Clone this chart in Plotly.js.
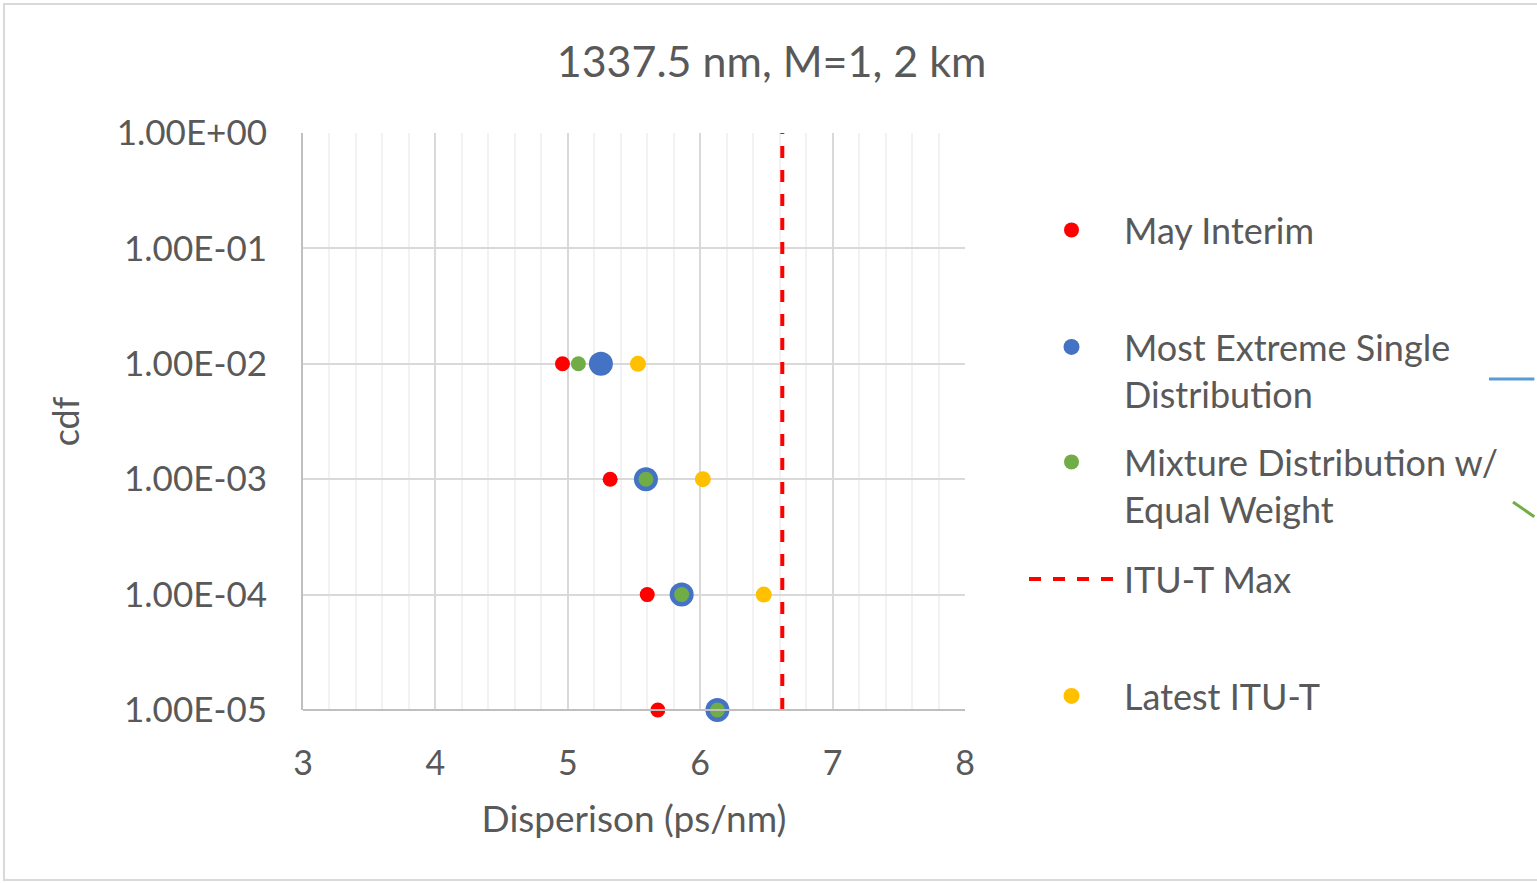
<!DOCTYPE html>
<html>
<head>
<meta charset="utf-8">
<script src="https://cdn.plot.ly/plotly-3.0.1.min.js"></script>
<style>html,body{margin:0;padding:0;background:#fff;}#chart{width:1537px;height:883px;}</style>
</head>
<body>
<div id="chart"></div>
<script>
// ---- data ----
const cdfLevels = [1e-2, 1e-3, 1e-4, 1e-5];
const mayInterim = [4.96, 5.32, 5.60, 5.68];
const mostExtreme = [5.25, 5.59, 5.86, 6.13];
const mixtureEqual = [5.08, 5.59, 5.86, 6.13];
const latestItuCdf = [1e-2, 1e-3, 1e-4];
const latestItu = [5.53, 6.02, 6.48];
const ituMaxX = [6.62, 6.62];
const ituMaxY = [1e-5, 1];
const yTickVals = [1, 1e-1, 1e-2, 1e-3, 1e-4, 1e-5];
const yTickText = ['1.00E+00', '1.00E-01', '1.00E-02', '1.00E-03', '1.00E-04', '1.00E-05'];
const xTickVals = [3, 4, 5, 6, 7, 8];

const FONT = 'Lato, "Open Sans", sans-serif';
const GREY = '#595959';

const traces = [
  {name: 'May Interim', x: mayInterim, y: cdfLevels, type: 'scatter', mode: 'markers', cliponaxis: false,
   marker: {color: '#ff0000', size: 15}, legend: 'legend'},
  {name: 'Most Extreme Single<br>Distribution', x: mostExtreme, y: cdfLevels, type: 'scatter', mode: 'markers', cliponaxis: false,
   marker: {color: '#4472c4', size: 24}, legend: 'legend2'},
  {name: 'Mixture Distribution w/<br>Equal Weight', x: mixtureEqual, y: cdfLevels, type: 'scatter', mode: 'markers', cliponaxis: false,
   marker: {color: '#70ad47', size: 15}, legend: 'legend3'},
  {name: 'ITU-T Max', x: ituMaxX, y: ituMaxY, type: 'scatter', mode: 'lines', cliponaxis: false,
   line: {color: '#ff0000', width: 4, dash: 'dash'}, legend: 'legend4'},
  {name: 'Latest ITU-T', x: latestItu, y: latestItuCdf, type: 'scatter', mode: 'markers', cliponaxis: false,
   marker: {color: '#ffc000', size: 16}, legend: 'legend5'}
];

function leg(xpx, ypx, iw) {
  return {xref: 'container', yref: 'container', x: xpx / 1537, y: 1 - ypx / 883,
    xanchor: 'left', yanchor: 'top', valign: 'top', bgcolor: 'rgba(0,0,0,0)', itemwidth: iw,
    font: {family: FONT, size: 36, color: GREY}, itemclick: false};
}

const layout = {
  width: 1537, height: 883,
  paper_bgcolor: '#ffffff', plot_bgcolor: '#ffffff',
  margin: {l: 303, r: 572, t: 133, b: 173},
  font: {family: FONT, color: GREY},
  title: {text: '1337.5 nm, M=1, 2 km', font: {family: FONT, size: 43, color: GREY},
          xref: 'container', x: 0.502, y: 1 - 62 / 883, yanchor: 'middle'},
  xaxis: {range: [3, 8], tickvals: xTickVals, showline: false, zeroline: false,
          showgrid: true, gridcolor: '#d9d9d9', gridwidth: 2,
          minor: {dtick: 0.2, showgrid: true, gridcolor: '#f2f2f2', gridwidth: 2},
          tickfont: {family: FONT, size: 34, color: GREY}, ticks: '', ticklabelstandoff: 30,
          title: {text: 'Disperison (ps/nm)', font: {family: FONT, size: 37, color: GREY}, standoff: 25}},
  yaxis: {type: 'log', range: [-5, 0], tickvals: yTickVals, ticktext: yTickText,
          showgrid: true, gridcolor: '#d9d9d9', gridwidth: 2, zeroline: false,
          showline: true, linecolor: '#bfbfbf', linewidth: 2, ticks: '',
          tickfont: {family: FONT, size: 35, color: GREY}, ticklabelstandoff: 27,
          title: {text: 'cdf', font: {family: FONT, size: 36, color: GREY}, standoff: 26}},
  showlegend: true,
  legend: leg(1019, 200, 95),
  legend2: leg(1019, 317, 95),
  legend3: leg(1019, 432, 95),
  legend4: leg(1024, 549, 90),
  legend5: leg(1019, 666, 95),
  shapes: [
    {type: 'rect', xref: 'paper', yref: 'paper', x0: -0.4517, x1: 1.9, y0: -0.2946, y1: 1.2236,
     line: {color: '#d9d9d9', width: 2}, fillcolor: 'rgba(0,0,0,0)', layer: 'below'},
    {type: 'line', xref: 'paper', yref: 'paper', x0: 0, x1: 1, y0: 0, y1: 0, line: {color: '#bfbfbf', width: 2}},
    {type: 'line', xref: 'paper', yref: 'paper', x0: 1.7915, x1: 1.86, y0: 0.5736, y1: 0.5736, line: {color: '#5b9bd5', width: 3}},
    {type: 'line', xref: 'paper', yref: 'paper', x0: 1.8278, x1: 1.86, y0: 0.3605, y1: 0.335, line: {color: '#70ad47', width: 3}}
  ]
};

Plotly.newPlot('chart', traces, layout, {displayModeBar: false, staticPlot: true});
</script>
</body>
</html>
